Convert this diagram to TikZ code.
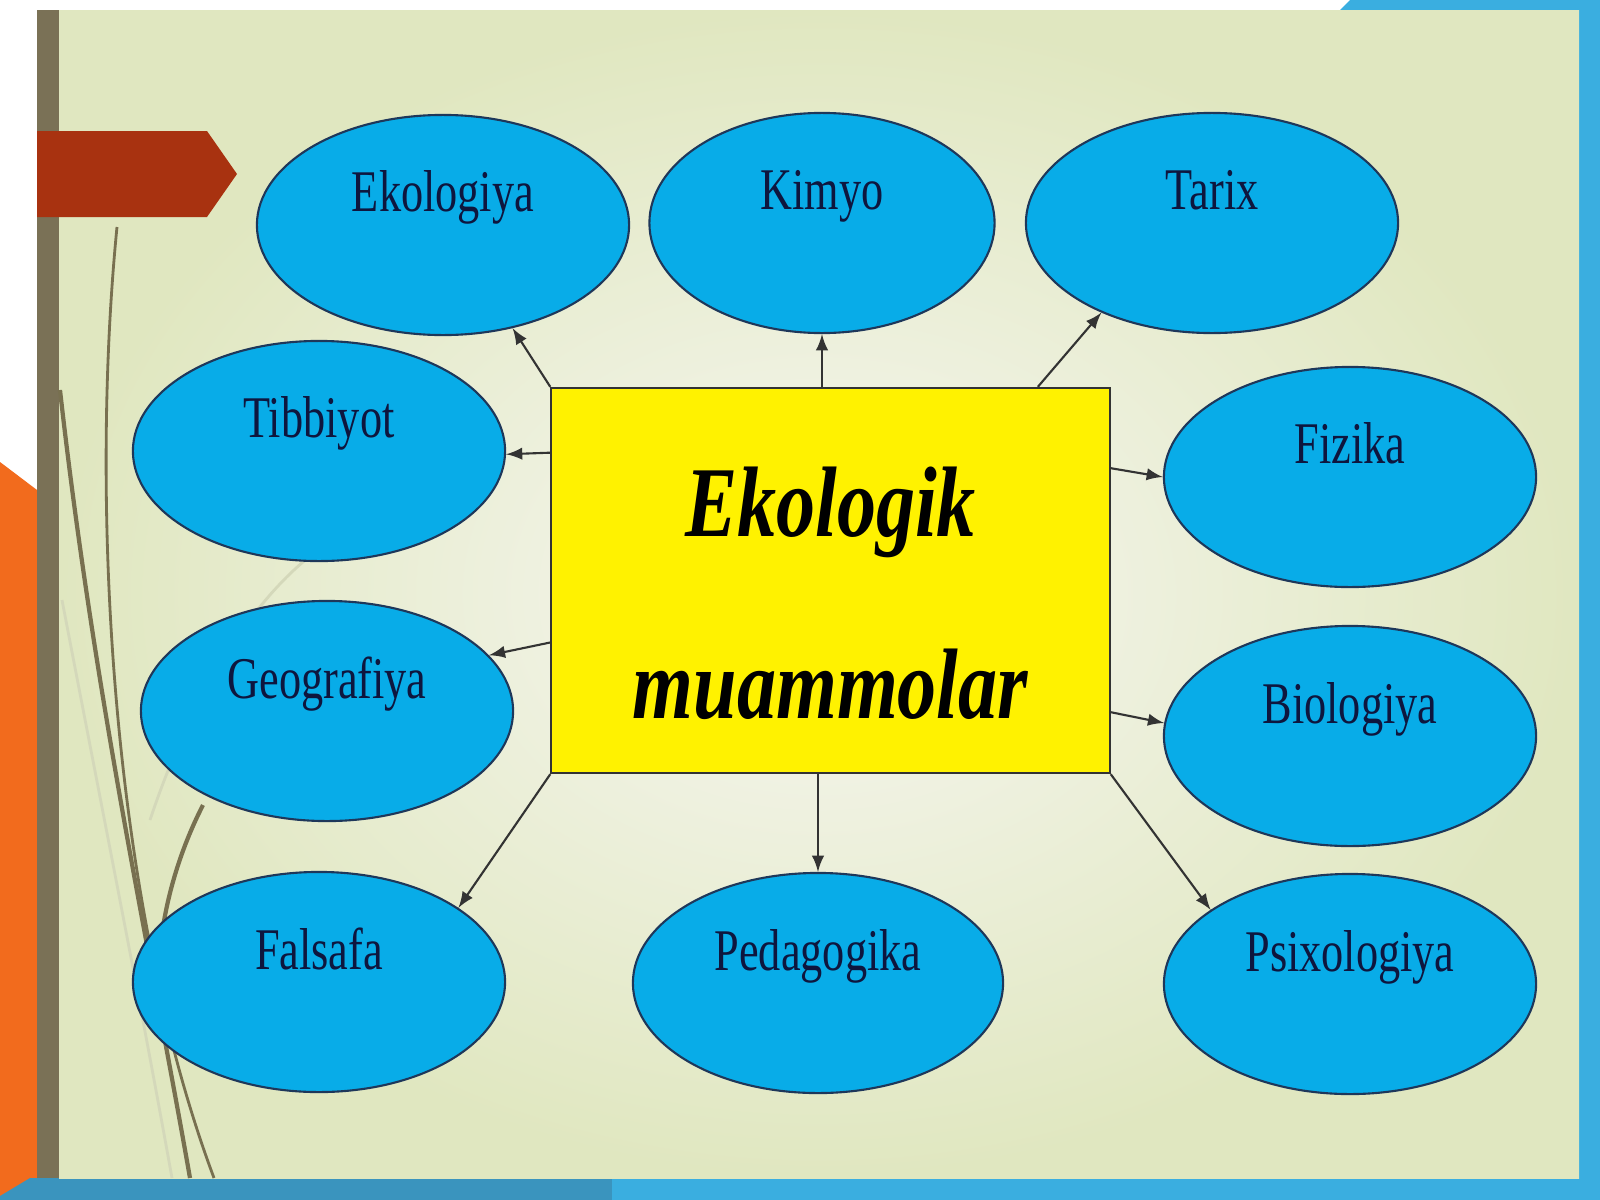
\documentclass[tikz,border=0pt]{standalone}
\usepackage{fontspec}
\usepackage{tikz}
\usepgflibrary{shapes}
\usetikzlibrary{arrows,calc}
\usepackage{xcolor}

\newfontfamily\ovalfont[FakeStretch=0.75]{Liberation Serif}
\newfontfamily\boxfont[FakeStretch=0.78]{Liberation Serif}

\definecolor{ovalblue}{RGB}{8,172,232}
\definecolor{ovalline}{RGB}{30,55,90}
\definecolor{ovaltext}{RGB}{14,22,62}
\definecolor{cream}{RGB}{224,231,192}
\definecolor{creamlight}{RGB}{247,247,242}
\definecolor{barolive}{RGB}{122,113,86}
\definecolor{bannerred}{RGB}{168,50,16}
\definecolor{sideorange}{RGB}{242,107,29}
\definecolor{bandblue}{RGB}{58,174,224}
\definecolor{banddark}{RGB}{58,148,190}
\definecolor{stemolive}{RGB}{120,112,80}
\definecolor{stempale}{RGB}{212,216,186}

\begin{document}
\begin{tikzpicture}[x=0.01cm,y=-0.01cm]
	 \tikzstyle{topic}=[ellipse,draw=ovalline,line width=0.6pt,fill=ovalblue,minimum width=3.72cm,minimum height=2.2cm,inner sep=0pt,text=ovaltext,font=\ovalfont\fontsize{16.8pt}{20pt}\selectfont,text height=0.45cm,text depth=0.71cm]
	 \tikzstyle{mainbox}=[rectangle,draw=black!80,line width=0.6pt,fill=yellow,minimum width=5.58cm,minimum height=3.85cm,inner sep=0pt,align=center,font=\boxfont\bfseries\itshape\fontsize{28.5pt}{52pt}\selectfont]
	 \tikzstyle{link}=[draw,line width=0.6pt,black!80,-latex]
	 \tikzstyle{stem}=[draw,line width=1.2pt,stemolive]
	 \tikzstyle{pale stem}=[draw,line width=0.8pt,stempale]

	 \useasboundingbox (0,0) rectangle (1600,1200);
	 % slide frame
	 \fill[white] (0,0) rectangle (1600,1200);
	 \fill[bandblue] (1340,10) -- (1350,0) -- (1600,0) -- (1600,10) -- cycle;
	 \fill[bandblue] (1579,0) rectangle (1600,1200);
	 \fill[sideorange] (0,462) -- (37,490) -- (37,1200) -- (0,1200) -- cycle;
	 \fill[banddark] (0,1196) -- (30,1178) -- (612,1178) -- (612,1200) -- (0,1200) -- cycle;
	 \fill[bandblue] (612,1178) rectangle (1600,1200);
	 \fill[barolive] (37,10) rectangle (59,1178);
	 \shade[inner color=creamlight,outer color=cream] (59,10) rectangle (1579,1178);
	 \fill[bannerred] (37,131) -- (207,131) -- (237,174) -- (207,217) -- (37,217) -- cycle;

	 % grass on the left
	 \draw[pale stem] (62,600) .. controls (110,850) and (140,1000) .. (172,1178);
	 \draw[pale stem] (318,550) .. controls (250,600) and (190,700) .. (150,820);
	 \draw[stem] (60,390) .. controls (95,700) and (150,950) .. (190,1178);
	 \draw[stem,line width=0.8pt] (117,227) .. controls (90,500) and (110,900) .. (214,1178);
	 \draw[stem] (203,805) .. controls (180,850) and (165,900) .. (160,950);

	 \node[topic] (eko) at (443,225) {Ekologiya};
	 \node[topic,minimum width=3.45cm] (kim) at (822,223) {Kimyo};
	 \node[topic] (tar) at (1212,223) {Tarix};
	 \node[topic] (tib) at (319,451) {Tibbiyot};
	 \node[topic] (fiz) at (1350,477) {Fizika};
	 \node[topic] (geo) at (327,711) {Geografiya};
	 \node[topic] (bio) at (1350,736) {Biologiya};
	 \node[topic] (fal) at (319,982) {Falsafa};
	 \node[topic,minimum width=3.70cm] (ped) at (818,983) {Pedagogika};
	 \node[topic] (psi) at (1350,984) {Psixologiya};
	 \node[mainbox] (box) at (830.5,580.5) {\rule{0pt}{0.95cm}Ekologik\\muammolar};

	 \draw[link] (box.north west) -- (eko.-56);
	 \draw[link] (box.north -| kim.south) -- (kim.south);
	 \draw[link] ($(box.north west)!0.87!(box.north east)$) -- (tar.-141);
	 \draw[link] ($(box.north west)!0.17!(box.south west)$) -- (tib.-1);
	 \draw[link] ($(box.north east)!0.21!(box.south east)$) -- (fiz.west);
	 \draw[link] ($(box.north west)!0.66!(box.south west)$) -- (geo.19);
	 \draw[link] ($(box.north east)!0.84!(box.south east)$) -- (bio.176);
	 \draw[link] (box.south west) -- (fal.28);
	 \draw[link] (box.south -| ped.north) -- (ped.north);
	 \draw[link] (box.south east) -- (psi.152);
\end{tikzpicture}
\end{document}
